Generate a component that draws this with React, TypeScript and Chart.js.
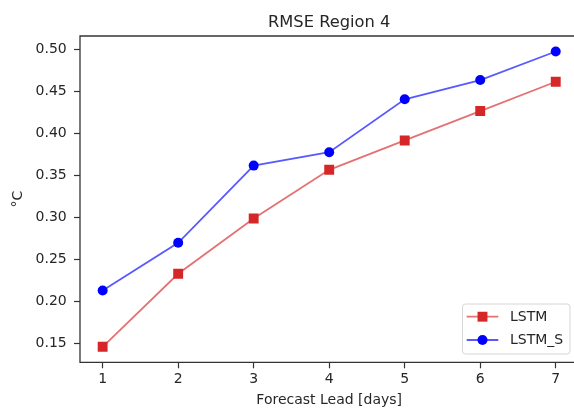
import React, { useEffect, useRef } from "react";
import { Chart, registerables } from "chart.js";

Chart.register(...registerables);

const days = [1, 2, 3, 4, 5, 6, 7];
const lstm = [0.146, 0.233, 0.299, 0.357, 0.392, 0.427, 0.462];
const lstmS = [0.213, 0.270, 0.362, 0.378, 0.441, 0.464, 0.498];
const yTicks = [0.15, 0.2, 0.25, 0.3, 0.35, 0.4, 0.45, 0.5];
const seriesNames = ["LSTM", "LSTM_S"];
const titleText = "RMSE Region 4";
const xLabel = "Forecast Lead [days]";
const yLabel = "°C";

const FONT = "'DejaVu Sans', sans-serif";
const TEXT = "#262626";
const CANVAS_W = 620;

const framePlugin = {
  id: "frameAndLegend",
  afterDraw(chart: any) {
    const { ctx, chartArea } = chart;
    ctx.save();
    // frame (right spine lies outside the visible window)
    ctx.strokeStyle = "#333";
    ctx.lineWidth = 1.3;
    ctx.beginPath();
    ctx.moveTo(chart.width, chartArea.top);
    ctx.lineTo(chartArea.left, chartArea.top);
    ctx.lineTo(chartArea.left, chartArea.bottom);
    ctx.lineTo(chart.width, chartArea.bottom);
    ctx.stroke();
    // title
    ctx.fillStyle = TEXT;
    ctx.font = `16.3px ${FONT}`;
    ctx.textAlign = "center";
    ctx.textBaseline = "alphabetic";
    ctx.fillText(titleText, (chartArea.left + chartArea.right) / 2, 26.7);
    // legend
    const bx = 462.5, by = 304, bw = 107.5, bh = 50, r = 3;
    ctx.beginPath();
    ctx.moveTo(bx + r, by);
    ctx.lineTo(bx + bw - r, by);
    ctx.arcTo(bx + bw, by, bx + bw, by + r, r);
    ctx.lineTo(bx + bw, by + bh - r);
    ctx.arcTo(bx + bw, by + bh, bx + bw - r, by + bh, r);
    ctx.lineTo(bx + r, by + bh);
    ctx.arcTo(bx, by + bh, bx, by + bh - r, r);
    ctx.lineTo(bx, by + r);
    ctx.arcTo(bx, by, bx + r, by, r);
    ctx.closePath();
    ctx.fillStyle = "rgba(255,255,255,0.85)";
    ctx.fill();
    ctx.strokeStyle = "#d6d6d6";
    ctx.lineWidth = 1;
    ctx.stroke();
    const rows = [316.7, 340];
    chart.data.datasets.forEach((ds: any, i: number) => {
      const y = rows[i];
      ctx.strokeStyle = ds.borderColor;
      ctx.lineWidth = ds.borderWidth;
      ctx.beginPath();
      ctx.moveTo(466.7, y);
      ctx.lineTo(498.3, y);
      ctx.stroke();
      ctx.fillStyle = ds.pointBackgroundColor;
      if (ds.pointStyle === "rect") {
        const s = ds.pointRadius * Math.SQRT1_2;
        ctx.fillRect(482.5 - s, y - s, 2 * s, 2 * s);
      } else {
        ctx.beginPath();
        ctx.arc(482.5, y, ds.pointRadius, 0, Math.PI * 2);
        ctx.fill();
      }
      ctx.fillStyle = TEXT;
      ctx.font = `14px ${FONT}`;
      ctx.textAlign = "left";
      ctx.textBaseline = "middle";
      ctx.fillText(ds.label, 510, y + 0.5);
    });
    ctx.restore();
  },
};

export default function App() {
  const ref = useRef<HTMLCanvasElement>(null);
  useEffect(() => {
    if (!ref.current) return;
    const chart = new Chart(ref.current, {
      type: "line",
      data: {
        datasets: [
          {
            label: seriesNames[0],
            data: days.map((d, i) => ({ x: d, y: lstm[i] })),
            borderColor: "rgba(214,39,40,0.65)",
            borderWidth: 1.8,
            pointStyle: "rect",
            pointRadius: 7,
            pointBackgroundColor: "#d62728",
            pointBorderColor: "#d62728",
            pointBorderWidth: 0,
            tension: 0,
          },
          {
            label: seriesNames[1],
            data: days.map((d, i) => ({ x: d, y: lstmS[i] })),
            borderColor: "rgba(0,0,255,0.65)",
            borderWidth: 1.8,
            pointStyle: "circle",
            pointRadius: 5,
            pointBackgroundColor: "#0000ff",
            pointBorderColor: "#0000ff",
            pointBorderWidth: 0,
            tension: 0,
          },
        ],
      },
      options: {
        animation: false,
        responsive: false,
        events: [],
        layout: { padding: { left: 0, top: 36, right: CANVAS_W - 578.4, bottom: 0 } },
        plugins: { legend: { display: false }, title: { display: false }, tooltip: { enabled: false } },
        scales: {
          x: {
            type: "linear",
            min: 0.7,
            max: 7.3,
            afterBuildTicks: (s: any) => {
              s.ticks = days.map((v) => ({ value: v }));
            },
            afterFit: (s: any) => {
              s.height = 47.7;
            },
            ticks: { color: TEXT, font: { family: FONT, size: 14 }, padding: 3, maxRotation: 0, autoSkip: false, callback: (v: any) => String(v) },
            grid: { display: true, drawOnChartArea: false, drawTicks: true, tickLength: 6, tickColor: "#333", tickWidth: 1.2 },
            border: { display: false },
            title: { display: true, text: xLabel, color: TEXT, font: { family: FONT, size: 14 }, padding: { top: 0, bottom: 1.1 } },
          },
          y: {
            type: "linear",
            min: 0.1275,
            max: 0.5165,
            afterBuildTicks: (s: any) => {
              s.ticks = yTicks.map((v) => ({ value: v }));
            },
            afterFit: (s: any) => {
              s.width = 80;
            },
            ticks: { color: TEXT, font: { family: FONT, size: 14 }, padding: 7.3, autoSkip: false, callback: (v: any) => Number(v).toFixed(2) },
            grid: { display: true, drawOnChartArea: false, drawTicks: true, tickLength: 6, tickColor: "#333", tickWidth: 1.2 },
            border: { display: false },
            title: { display: true, text: yLabel, color: TEXT, font: { family: FONT, size: 14 }, padding: { top: 9.6, bottom: 0 } },
          },
        },
      },
      plugins: [framePlugin],
    } as any);
    return () => chart.destroy();
  }, []);
  return (
    <div style={{ position: "fixed", left: 0, top: 0, width: 574, height: 410, overflow: "hidden", background: "#fff" }}>
      <canvas ref={ref} width={CANVAS_W} height={410} style={{ display: "block" }} />
    </div>
  );
}
